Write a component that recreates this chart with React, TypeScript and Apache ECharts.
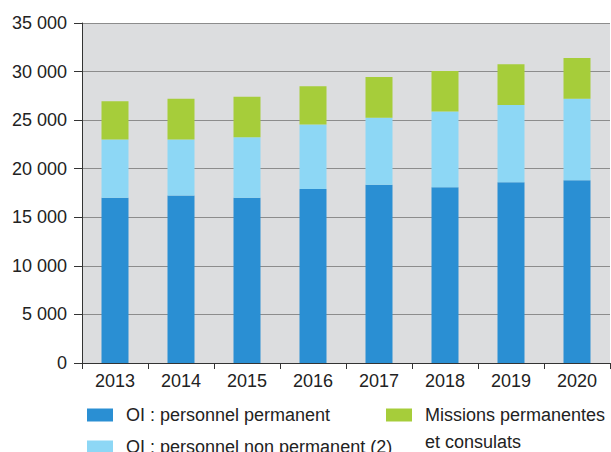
import React, { useEffect, useRef } from "react";
import * as echarts from "echarts";

const years = ["2013", "2014", "2015", "2016", "2017", "2018", "2019", "2020"];
const permanent = [17000, 17250, 17000, 17900, 18350, 18100, 18600, 18800];
const nonPermanent = [6000, 5750, 6250, 6650, 6900, 7800, 7950, 8400];
const missions = [3950, 4200, 4150, 3950, 4200, 4150, 4200, 4200];

const names = [
  "OI : personnel permanent",
  "OI : personnel non permanent (2)",
  "Missions permanentes et consulats",
];
const legendFirstLine = "Missions permanentes";
const legendSecondLine = "et consulats";
const colors = ["#2A8FD3", "#8DD7F5", "#A6CD3A"];

const fmt = (v: number) => {
  const s = String(Math.round(v));
  return s.replace(/\B(?=(\d{3})+(?!\d))/g, " ");
};

export default function App() {
  const ref = useRef<HTMLDivElement>(null);
  useEffect(() => {
    if (!ref.current) return;
    const chart = echarts.init(ref.current, undefined, { renderer: "svg" });
    const font = "'Liberation Sans', Arial, sans-serif";
    const legendBase = {
      itemWidth: 26,
      itemHeight: 13,
      itemGap: 10,
      padding: 0,
      icon: "rect",
      textStyle: {
        fontSize: 18,
        color: "#222",
        fontFamily: font,
        lineHeight: 20,
        padding: [0, 0, 0, 8],
      },
    };
    chart.setOption({
      animation: false,
      textStyle: { fontFamily: font },
      grid: {
        left: 82,
        right: 1,
        top: 23,
        bottom: 89,
        show: true,
        backgroundColor: "#DCDDDF",
        borderWidth: 0,
      },
      legend: [
        { ...legendBase, data: [names[0]], left: 87, top: 405 },
        { ...legendBase, data: [names[1]], left: 87, top: 437 },
        {
          ...legendBase,
          data: [names[2]],
          left: 386,
          top: 405,
          formatter: () => legendFirstLine,
        },
      ],
      graphic: [
        {
          type: "text",
          left: 425,
          top: 433,
          style: {
            text: legendSecondLine,
            fontSize: 18,
            fill: "#222",
            fontFamily: font,
          },
        },
      ],
      xAxis: {
        type: "category",
        data: years,
        boundaryGap: true,
        axisLine: { lineStyle: { color: "#333", width: 1 } },
        axisTick: { show: true, length: 6, lineStyle: { color: "#333" } },
        axisLabel: { fontSize: 18, color: "#222", margin: 9, fontFamily: font },
      },
      yAxis: {
        type: "value",
        min: 0,
        max: 35000,
        interval: 5000,
        axisLine: { show: true, lineStyle: { color: "#333", width: 1 } },
        axisTick: { show: true, length: 8, lineStyle: { color: "#333" } },
        axisLabel: {
          fontSize: 18,
          color: "#222",
          margin: 15,
          fontFamily: font,
          formatter: (v: number) => fmt(v),
        },
        splitLine: { show: true, lineStyle: { color: "#8C8C8C", width: 1 } },
      },
      series: [permanent, nonPermanent, missions].map((d, i) => ({
        name: names[i],
        type: "bar",
        stack: "total",
        data: d,
        barWidth: 27,
        itemStyle: { color: colors[i] },
      })),
    });
    return () => chart.dispose();
  }, []);
  return <div ref={ref} style={{ width: 611, height: 452, position: "absolute", left: 0, top: 0 }} />;
}
